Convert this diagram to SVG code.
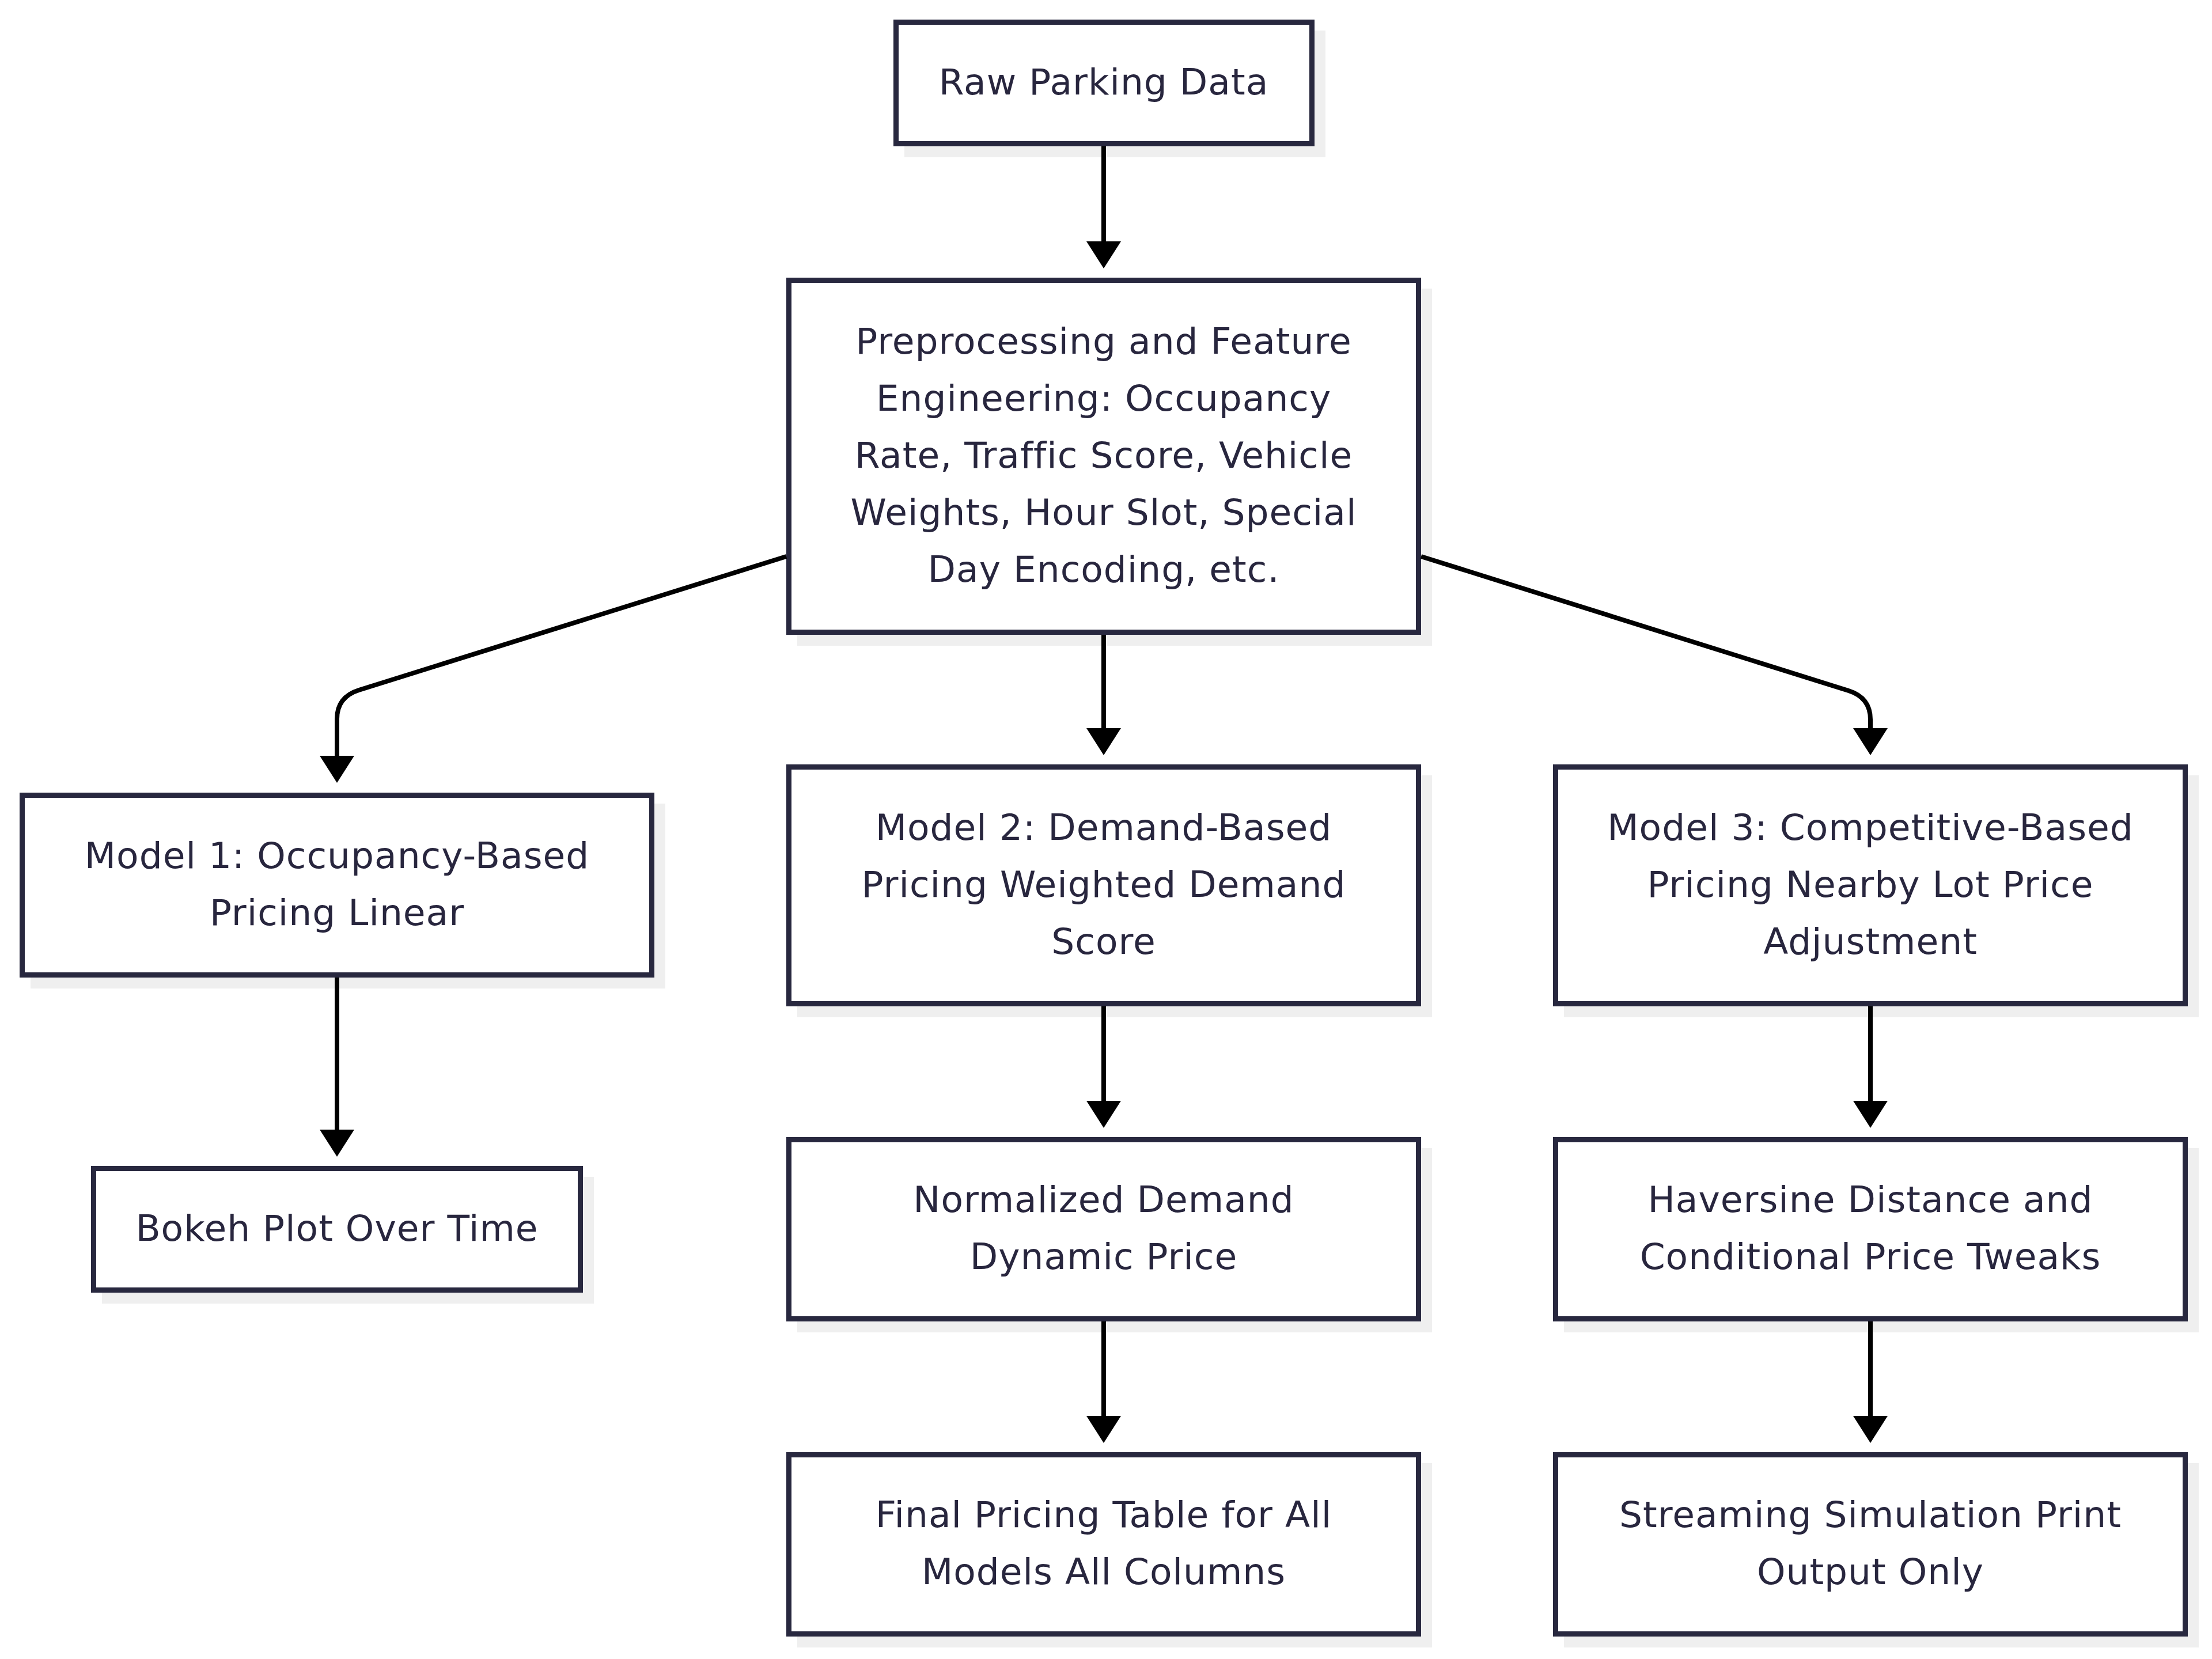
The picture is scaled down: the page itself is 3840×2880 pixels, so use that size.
<svg xmlns="http://www.w3.org/2000/svg" width="3840" height="2880" viewBox="0 0 3840 2880">
<defs>
<style>
.bg{fill:#ffffff}
.sh{fill:#efefef}
.box{fill:#ffffff;stroke:#28283f;stroke-width:9}
.t{font-family:"DejaVu Sans","Liberation Sans",sans-serif;font-size:63px;fill:#28263e;text-anchor:middle;letter-spacing:1px}
.e{fill:none;stroke:#000000;stroke-width:8}
</style>
<marker id="ah" viewBox="0 0 47 60" refX="1" refY="30" markerWidth="47" markerHeight="60" markerUnits="userSpaceOnUse" orient="auto">
<path d="M0,0 L47,30 L0,60 Z" fill="#000000"/>
</marker>
</defs>
<rect class="bg" x="0" y="0" width="3840" height="2880"/>

<g id="raw">
<rect class="sh" x="1570" y="53" width="731" height="220"/>
<rect class="box" x="1555.5" y="38.5" width="722" height="211"/>
<text class="t" x="1916" y="164">Raw Parking Data</text>
</g>

<g id="preprocessing">
<rect class="sh" x="1384" y="501" width="1102" height="620"/>
<rect class="box" x="1369.5" y="486.5" width="1093" height="611"/>
<text class="t" x="1916" y="614">Preprocessing and Feature</text>
<text class="t" x="1916" y="713">Engineering: Occupancy</text>
<text class="t" x="1916" y="812">Rate, Traffic Score, Vehicle</text>
<text class="t" x="1916" y="911">Weights, Hour Slot, Special</text>
<text class="t" x="1916" y="1010">Day Encoding, etc.</text>
</g>

<g id="model1">
<rect class="sh" x="53" y="1395" width="1102" height="321"/>
<rect class="box" x="38.5" y="1380.5" width="1093" height="312"/>
<text class="t" x="585" y="1507">Model 1: Occupancy-Based</text>
<text class="t" x="585" y="1606">Pricing Linear</text>
</g>

<g id="model2">
<rect class="sh" x="1384" y="1346" width="1102" height="420"/>
<rect class="box" x="1369.5" y="1331.5" width="1093" height="411"/>
<text class="t" x="1916" y="1458">Model 2: Demand-Based</text>
<text class="t" x="1916" y="1557">Pricing Weighted Demand</text>
<text class="t" x="1916" y="1656">Score</text>
</g>

<g id="model3">
<rect class="sh" x="2715" y="1346" width="1102" height="420"/>
<rect class="box" x="2700.5" y="1331.5" width="1093" height="411"/>
<text class="t" x="3247" y="1458">Model 3: Competitive-Based</text>
<text class="t" x="3247" y="1557">Pricing Nearby Lot Price</text>
<text class="t" x="3247" y="1656">Adjustment</text>
</g>

<g id="bokeh">
<rect class="sh" x="177" y="2043" width="854" height="220"/>
<rect class="box" x="162.5" y="2028.5" width="845" height="211"/>
<text class="t" x="585" y="2154">Bokeh Plot Over Time</text>
</g>

<g id="normalized">
<rect class="sh" x="1384" y="1993" width="1102" height="320"/>
<rect class="box" x="1369.5" y="1978.5" width="1093" height="311"/>
<text class="t" x="1916" y="2104">Normalized Demand</text>
<text class="t" x="1916" y="2203">Dynamic Price</text>
</g>

<g id="haversine">
<rect class="sh" x="2715" y="1993" width="1102" height="320"/>
<rect class="box" x="2700.5" y="1978.5" width="1093" height="311"/>
<text class="t" x="3247" y="2104">Haversine Distance and</text>
<text class="t" x="3247" y="2203">Conditional Price Tweaks</text>
</g>

<g id="final">
<rect class="sh" x="1384" y="2540" width="1102" height="320"/>
<rect class="box" x="1369.5" y="2525.5" width="1093" height="311"/>
<text class="t" x="1916" y="2651">Final Pricing Table for All</text>
<text class="t" x="1916" y="2750">Models All Columns</text>
</g>

<g id="streaming">
<rect class="sh" x="2715" y="2540" width="1102" height="320"/>
<rect class="box" x="2700.5" y="2525.5" width="1093" height="311"/>
<text class="t" x="3247" y="2651">Streaming Simulation Print</text>
<text class="t" x="3247" y="2750">Output Only</text>
</g>

<g id="connectors">
<path class="e" marker-end="url(#ah)" d="M1916 254 L1916 420"/>
<path class="e" marker-end="url(#ah)" d="M1916 1102 L1916 1265"/>
<path class="e" marker-end="url(#ah)" d="M1365 966 L623 1198 Q585 1210 585 1248 L585 1313"/>
<path class="e" marker-end="url(#ah)" d="M2467 966 L3209 1199 Q3247 1211 3247 1249 L3247 1265"/>
<path class="e" marker-end="url(#ah)" d="M585 1697 L585 1962"/>
<path class="e" marker-end="url(#ah)" d="M1916 1747 L1916 1912"/>
<path class="e" marker-end="url(#ah)" d="M3247 1747 L3247 1912"/>
<path class="e" marker-end="url(#ah)" d="M1916 2294 L1916 2459"/>
<path class="e" marker-end="url(#ah)" d="M3247 2294 L3247 2459"/>
</g>
</svg>
